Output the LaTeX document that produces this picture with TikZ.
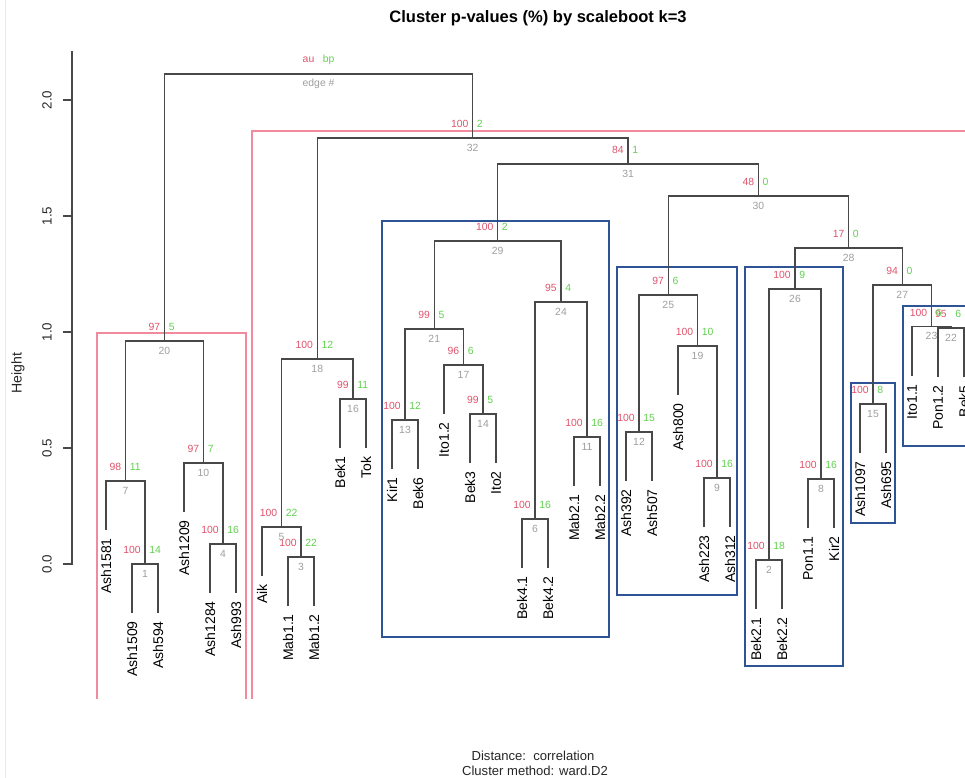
\documentclass[tikz,border=0pt]{standalone}
\usepackage{fontspec}
\setmainfont{Liberation Sans}
\usetikzlibrary{calc}
\definecolor{aured}{HTML}{DF536B}
\definecolor{bpgreen}{HTML}{61D04F}
\definecolor{edgegray}{HTML}{9E9E9E}
\definecolor{pinkc}{RGB}{240,138,156}
\definecolor{bluec}{RGB}{47,84,150}
\definecolor{treec}{RGB}{72,72,72}
\tikzset{
  tree/.style={draw=treec, line width=1pt},
  leaf/.style={rotate=90, anchor=east, inner sep=0pt, font=\fontsize{10.5}{12}\selectfont},
  au/.style={anchor=east, inner sep=0pt, text=aured, font=\fontsize{7.8}{9}\selectfont},
  bp/.style={anchor=west, inner sep=0pt, text=bpgreen, font=\fontsize{7.8}{9}\selectfont},
  edgeno/.style={inner sep=0pt, text=edgegray, font=\fontsize{7.8}{9}\selectfont},
  pinkbox/.style={draw=pinkc, line width=0.85pt},
  bluebox/.style={draw=bluec, line width=1.9pt},
  axisline/.style={draw=treec, line width=0.9pt},
  ticklab/.style={rotate=90, inner sep=0pt, font=\fontsize{10}{12}\selectfont, text=black!85},
}
\newcommand\lf[4]{%
  \coordinate (#1) at (#2,#3);
  \node[leaf] (#1lab) at (#2,#3+8) {#4};}
\newcommand\mrg[7]{%
  \coordinate (tmpx) at ($(#2)!0.5!(#3)$);
  \coordinate (tmpy) at (0,#4);
  \coordinate (#1) at (tmpx |- tmpy);
  \draw[tree] (#2) |- (#1) -| (#3);
  \node[au] (#1au) at ($(#1)+(-4,-14)$) {#5};
  \node[bp] (#1bp) at ($(#1)+(4,-14)$) {#6};
  \node[edgeno] (#1no) at ($(#1)+(0,9.5)$) {#7};}
\begin{document}
\begin{tikzpicture}[x=0.75pt,y=-0.75pt]
\useasboundingbox (0,0) rectangle (965,778);
\clip (0,0) rectangle (965,778);
\draw[black!8, line width=0.6pt] (5,0) -- (5,778);
% title and subtitle
\node[font=\bfseries\fontsize{12.4}{14}\selectfont] (title) at (538,18) {Cluster p-values (\%) by scaleboot k=3};
\node[font=\fontsize{9.8}{11}\selectfont, text=black!85] (dist) at (533,756) {Distance:\ \ correlation};
\node[font=\fontsize{9.8}{11}\selectfont, text=black!85] (meth) at (535,771) {Cluster method: ward.D2};
% axis
\draw[axisline] (72,51) -- (72,565);
\foreach \h/\lab in {0/0.0, 1/0.5, 2/1.0, 3/1.5, 4/2.0} {
  \draw[axisline] (63,564-116*\h) -- (72,564-116*\h);
  \node[ticklab] (tick\h) at (47,564-116*\h) {\lab};
}
\node[ticklab, font=\fontsize{10.6}{12}\selectfont] (ylab) at (18,373) {Height};
% pink rectangles (clipped at plot region)
\begin{scope}
\clip (0,0) rectangle (965,698);
\draw[pinkbox] (97,333) rectangle (246,720);
\draw[pinkbox] (252,131) rectangle (990,720);
\end{scope}
% blue rectangles
\draw[bluebox] (382,221) rectangle (609,637);
\draw[bluebox] (617,267) rectangle (737,595);
\draw[bluebox] (745,267) rectangle (843,666);
\draw[bluebox] (851,383) rectangle (895,523);
\draw[bluebox] (903,306) rectangle (990,446);
% leaves
\lf{t1}{106}{530}{Ash1581}
\lf{t2}{132}{613}{Ash1509}
\lf{t3}{158}{613}{Ash594}
\lf{t4}{184}{512}{Ash1209}
\lf{t5}{210}{593}{Ash1284}
\lf{t6}{236}{593}{Ash993}
\lf{t7}{262}{576}{Aik}
\lf{t8}{288}{606}{Mab1.1}
\lf{t9}{314}{606}{Mab1.2}
\lf{t10}{340}{448}{Bek1}
\lf{t11}{366}{448}{Tok}
\lf{t12}{392}{469}{Kir1}
\lf{t13}{418}{469}{Bek6}
\lf{t14}{444}{414}{Ito1.2}
\lf{t15}{470}{463}{Bek3}
\lf{t16}{496}{463}{Ito2}
\lf{t17}{522}{568}{Bek4.1}
\lf{t18}{548}{568}{Bek4.2}
\lf{t19}{574}{486}{Mab2.1}
\lf{t20}{600}{486}{Mab2.2}
\lf{t21}{626}{481}{Ash392}
\lf{t22}{652}{481}{Ash507}
\lf{t23}{678}{395}{Ash800}
\lf{t24}{704}{527}{Ash223}
\lf{t25}{730}{527}{Ash312}
\lf{t26}{756}{609}{Bek2.1}
\lf{t27}{782}{609}{Bek2.2}
\lf{t28}{808}{528}{Pon1.1}
\lf{t29}{834}{528}{Kir2}
\lf{t30}{860}{453}{Ash1097}
\lf{t31}{886}{453}{Ash695}
\lf{t32}{912}{376}{Ito1.1}
\lf{t33}{938}{377}{Pon1.2}
\lf{t34}{964}{377}{Bek5}
% merges
\mrg{m1}{t2}{t3}{564}{100}{14}{1}
\mrg{m2}{t26}{t27}{560}{100}{18}{2}
\mrg{m3}{t8}{t9}{557}{100}{22}{3}
\mrg{m4}{t5}{t6}{544}{100}{16}{4}
\mrg{m5}{t7}{m3}{527}{100}{22}{5}
\mrg{m6}{t17}{t18}{519}{100}{16}{6}
\mrg{m7}{t1}{m1}{481}{98}{11}{7}
\mrg{m8}{t28}{t29}{479}{100}{16}{8}
\mrg{m9}{t24}{t25}{478}{100}{16}{9}
\mrg{m10}{t4}{m4}{463}{97}{7}{10}
\mrg{m11}{t19}{t20}{437}{100}{16}{11}
\mrg{m12}{t21}{t22}{432}{100}{15}{12}
\mrg{m13}{t12}{t13}{420}{100}{12}{13}
\mrg{m14}{t15}{t16}{414}{99}{5}{14}
\mrg{m15}{t30}{t31}{404}{100}{8}{15}
\mrg{m16}{t10}{t11}{399}{99}{11}{16}
\mrg{m17}{t14}{m14}{365}{96}{6}{17}
\mrg{m18}{m5}{m16}{359}{100}{12}{18}
\mrg{m19}{t23}{m9}{346}{100}{10}{19}
\mrg{m20}{m7}{m10}{341}{97}{5}{20}
\mrg{m21}{m13}{m17}{329}{99}{5}{21}
\mrg{m22}{t33}{t34}{328}{95}{6}{22}
\mrg{m23}{t32}{m22}{326.5}{100}{6}{23}
\mrg{m24}{m6}{m11}{302}{95}{4}{24}
\mrg{m25}{m12}{m19}{295}{97}{6}{25}
\mrg{m26}{m2}{m8}{289}{100}{9}{26}
\mrg{m27}{m15}{m23}{285}{94}{0}{27}
\mrg{m28}{m26}{m27}{248}{17}{0}{28}
\mrg{m29}{m21}{m24}{241}{100}{2}{29}
\mrg{m30}{m25}{m28}{196}{48}{0}{30}
\mrg{m31}{m29}{m30}{164}{84}{1}{31}
\mrg{m32}{m18}{m31}{138}{100}{2}{32}
\mrg{root}{m20}{m32}{74}{au}{bp}{edge \#}
\end{tikzpicture}
\end{document}
